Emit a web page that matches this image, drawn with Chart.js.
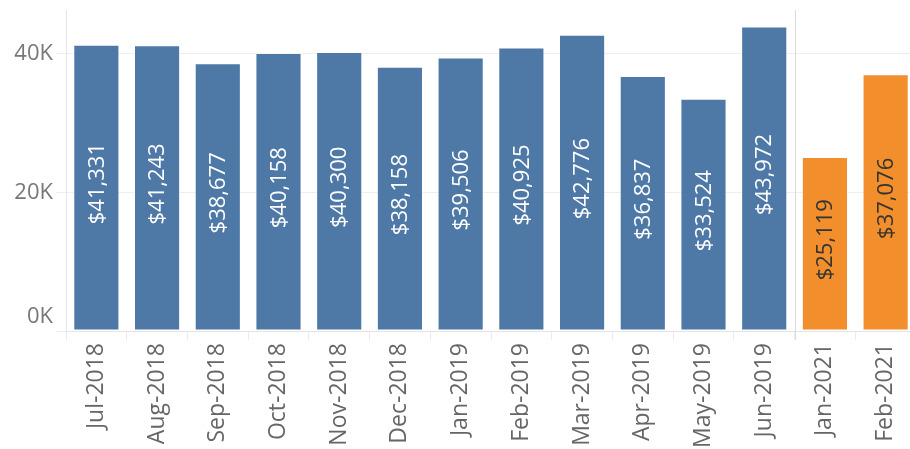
<!DOCTYPE html>
<html>
<head>
<meta charset="utf-8">
<script src="https://cdn.jsdelivr.net/npm/chart.js@4/dist/chart.umd.min.js"></script>
<style>
  html, body { margin: 0; padding: 0; background: #fff; overflow: hidden; }
  #wrap { width: 920px; height: 449px; }
</style>
</head>
<body>
<div id="wrap"><canvas id="ventas" width="920" height="449"></canvas></div>
<script>
// monthly sales
var months = ["Jul-2018", "Aug-2018", "Sep-2018", "Oct-2018", "Nov-2018", "Dec-2018",
              "Jan-2019", "Feb-2019", "Mar-2019", "Apr-2019", "May-2019", "Jun-2019",
              "Jan-2021", "Feb-2021"];
var sales = [41331, 41243, 38677, 40158, 40300, 38158,
             39506, 40925, 42776, 36837, 33524, 43972,
             25119, 37076];
var yTicks = [0, 20000, 40000];

var blue = '#4e79a7';
var orange = '#f28e2b';
var colores = months.map(function(m){ return m.indexOf('2021') > -1 ? orange : blue; });
var textos = months.map(function(m){ return m.indexOf('2021') > -1 ? '#333333' : '#ffffff'; });
var fuente = "'Open Sans', sans-serif";

function formatoK(v) { return (v / 1000) + 'K'; }

/* etiquetas dentro de las barras */
var etiquetas = {
    id: 'etiquetas',
    afterDatasetsDraw: function(chart) {
        var ctx = chart.ctx;
        var meta = chart.getDatasetMeta(0);
        ctx.save();
        ctx.font = '22px ' + fuente;
        ctx.textAlign = 'center';
        ctx.textBaseline = 'middle';
        meta.data.forEach(function(bar, i) {
            var cy = (bar.y + bar.base) / 2 - 4;
            ctx.save();
            ctx.translate(bar.x + 1, cy);
            ctx.rotate(-Math.PI / 2);
            ctx.fillStyle = textos[i];
            ctx.fillText('$' + sales[i].toLocaleString('en-US'), 0, 0);
            ctx.restore();
        });
        // etiqueta del cero, encima de la linea base
        var y = chart.scales.y;
        ctx.font = '22px ' + fuente;
        ctx.fillStyle = '#777777';
        ctx.textAlign = 'right';
        ctx.textBaseline = 'alphabetic';
        ctx.fillText(formatoK(yTicks[0]), y.right - 13, y.getPixelForValue(yTicks[0]) - 8);
        ctx.restore();
    }
};

/* linea separadora entre 2019 y 2021 */
var separador = {
    id: 'separador',
    beforeDatasetsDraw: function(chart) {
        var x = chart.scales.x;
        var idx = months.findIndex(function(m){ return m.indexOf('2021') > -1; });
        var px = Math.round((x.getPixelForValue(idx - 1) + x.getPixelForValue(idx)) / 2) + 0.5;
        var ctx = chart.ctx;
        ctx.save();
        ctx.strokeStyle = '#dcdcdc';
        ctx.lineWidth = 1;
        ctx.beginPath();
        ctx.moveTo(px, chart.chartArea.top);
        ctx.lineTo(px, chart.chartArea.bottom + 9);
        ctx.stroke();
        ctx.restore();
    }
};

var ctxVentas = document.getElementById('ventas');
var grafico = new Chart(ctxVentas, {
    type: 'bar',
    data: {
        labels: months,
        datasets: [{
            label: 'Sales',
            data: sales,
            backgroundColor: colores,
            borderColor: 'rgba(255,255,255,0.35)',
            borderWidth: 1,
            borderSkipped: false,
            barPercentage: 0.76,
            categoryPercentage: 1
        }]
    },
    options: {
        responsive: false,
        animation: false,
        layout: { padding: { top: 10, right: 4, left: 0, bottom: 0 } },
        plugins: {
            legend: { display: false },
            tooltip: { enabled: false }
        },
        scales: {
            x: {
                offset: true,
                grid: {
                    offset: true,
                    drawOnChartArea: false,
                    color: '#ececec',
                    tickLength: 9
                },
                border: { color: '#e4e4e4' },
                ticks: {
                    minRotation: 90,
                    maxRotation: 90,
                    autoSkip: false,
                    padding: 3,
                    color: '#666666',
                    font: { family: fuente, size: 23 }
                },
                afterFit: function(scale) {
                    scale.height = 118;
                    scale.paddingLeft = 0;
                    scale.paddingRight = 0;
                }
            },
            y: {
                min: 0,
                max: 46350,
                afterBuildTicks: function(scale) {
                    scale.ticks = yTicks.map(function(v){ return { value: v }; });
                },
                grid: {
                    color: '#eeeeee',
                    tickLength: 10
                },
                border: { color: '#e4e4e4' },
                ticks: {
                    padding: 3,
                    color: '#777777',
                    font: { family: fuente, size: 22 },
                    callback: function(v) { return v === 0 ? '' : formatoK(v); }
                },
                afterFit: function(scale) {
                    scale.width = 66;
                    scale.paddingTop = 0;
                    scale.paddingBottom = 0;
                }
            }
        }
    },
    plugins: [separador, etiquetas]
});
</script>
</body>
</html>
